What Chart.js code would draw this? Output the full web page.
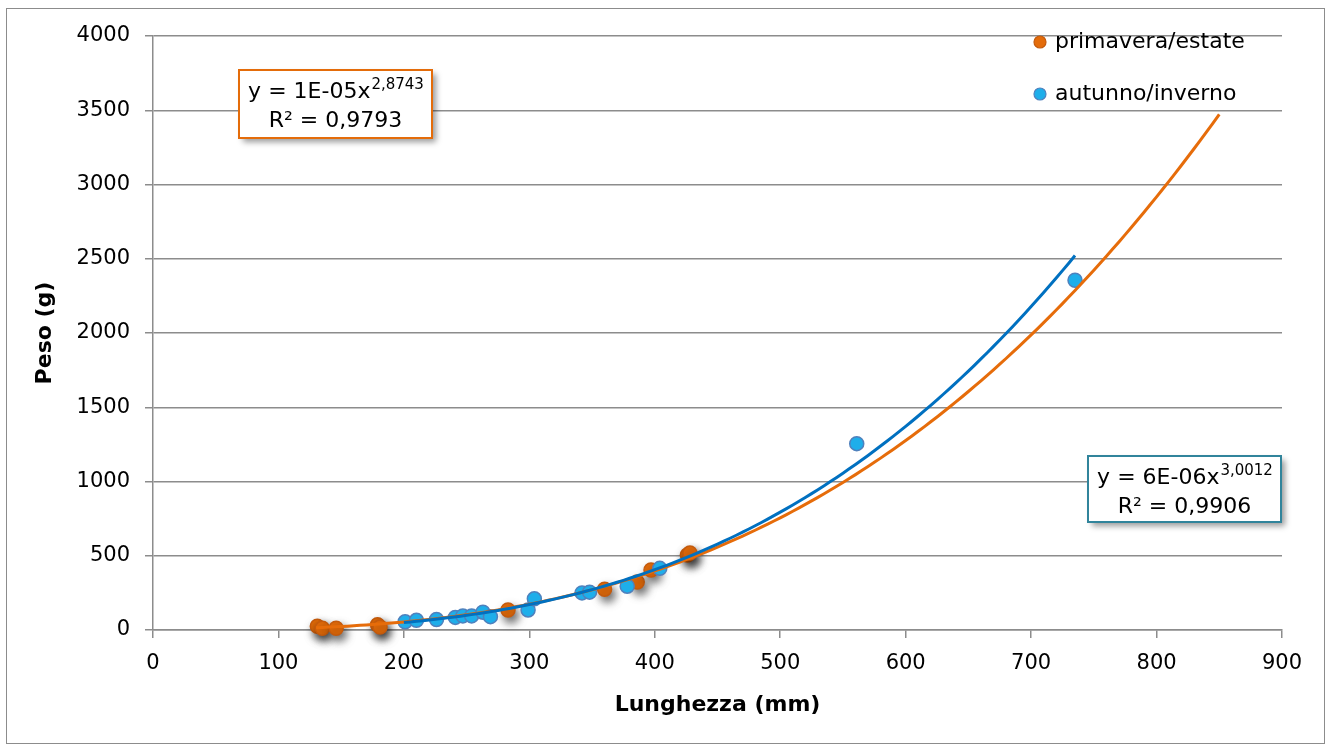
<!DOCTYPE html>
<html>
<head>
<meta charset="utf-8">
<title>Peso / Lunghezza</title>
<script src="https://cdn.jsdelivr.net/npm/chart.js@4"></script>
<style>
  html, body { margin: 0; padding: 0; background: #ffffff; }
  canvas { display: block; }
</style>
</head>
<body>
<canvas id="chart" width="1331" height="745"></canvas>
<script>
// Axis ticks
const xTicks = [0, 100, 200, 300, 400, 500, 600, 700, 800, 900];
const yTicks = [0, 500, 1000, 1500, 2000, 2500, 3000, 3500, 4000];

// Series labels
const seriesNames = ['primavera/estate', 'autunno/inverno'];

// primavera/estate: length (mm) and weight (g)
const springLength = [131, 135, 146, 179, 181, 283, 360, 386, 397, 426, 428];
const springWeight = [25, 12, 12, 35, 20, 135, 275, 323, 404, 505, 518];

// autunno/inverno: length (mm) and weight (g)
const autumnLength = [201, 210, 226, 241, 247, 254, 263, 269, 299, 304, 342, 348, 378, 404, 561, 735];
const autumnWeight = [55, 65, 70, 85, 95, 95, 120, 90, 135, 210, 250, 255, 295, 415, 1255, 2355];

// Power trendlines y = a * x^b  ([a, b]) and the x range each one spans
const springFit = [1.32e-5, 2.8743];
const springFitRange = [130, 850];
const autumnFit = [6.3e-6, 3.0012];
const autumnFitRange = [200, 735];

// Equation labels: [base, exponent, R²]
const springEq = ['y = 1E-05x', '2,8743', 'R² = 0,9793'];
const autumnEq = ['y = 6E-06x', '3,0012', 'R² = 0,9906'];

const ORANGE = '#E46C0A';
const ORANGE_EDGE = '#C45A0C';
const ORANGE_LINE = '#E66C0A';
const BLUE = '#1EAEEA';
const BLUE_EDGE = '#4F81BD';
const BLUE_LINE = '#0070C0';
const TEAL = '#31849B';
const GRID = '#8C8C8C';
const FONT = '"DejaVu Sans", sans-serif';
const TICK_SIZE = 21;
const TXT = 22;

function pairs(xs, ys) {
  return xs.map((x, i) => ({ x: x, y: ys[i] }));
}

function powerCurve(fit, range, step) {
  const pts = [];
  for (let x = range[0]; x <= range[1] + 1e-9; x += step) {
    pts.push({ x: x, y: fit[0] * Math.pow(x, fit[1]) });
  }
  return pts;
}

// Outer frame of the chart
const chartFrame = {
  id: 'chartFrame',
  beforeDraw(chart) {
    const c = chart.ctx;
    c.save();
    c.fillStyle = '#ffffff';
    c.fillRect(0, 0, chart.width, chart.height);
    c.strokeStyle = '#8C8C8C';
    c.lineWidth = 1;
    c.strokeRect(6.5, 8.5, chart.width - 13, chart.height - 10);
    c.restore();
  }
};

// Soft drop shadow under the markers of flagged datasets
const markerShadow = {
  id: 'markerShadow',
  beforeDatasetDraw(chart, args) {
    const ds = chart.data.datasets[args.index];
    if (!ds.dropShadow) return;
    const c = chart.ctx;
    c.save();
    c.shadowColor = 'rgba(0,0,0,0.6)';
    c.shadowBlur = 8;
    c.shadowOffsetX = 3;
    c.shadowOffsetY = 5;
  },
  afterDatasetDraw(chart, args) {
    const ds = chart.data.datasets[args.index];
    if (!ds.dropShadow) return;
    chart.ctx.restore();
  }
};

// Trendline equation boxes
const equationBoxes = {
  id: 'equationBoxes',
  afterDraw(chart, args, opts) {
    const c = chart.ctx;
    opts.boxes.forEach(b => {
      c.save();
      c.shadowColor = 'rgba(0,0,0,0.4)';
      c.shadowBlur = 6;
      c.shadowOffsetX = 4;
      c.shadowOffsetY = 4;
      c.fillStyle = '#ffffff';
      c.fillRect(b.x, b.y, b.w, b.h);
      c.restore();

      c.save();
      c.strokeStyle = b.color;
      c.lineWidth = 2;
      c.strokeRect(b.x, b.y, b.w, b.h);

      const cx = b.x + b.w / 2;
      const mainFont = TXT + 'px ' + FONT;
      const supFont = '15px ' + FONT;
      c.fillStyle = '#000000';
      c.textBaseline = 'alphabetic';
      c.font = mainFont;
      const wBase = c.measureText(b.text[0]).width;
      c.font = supFont;
      const wSup = c.measureText(b.text[1]).width;
      const startX = cx - (wBase + wSup) / 2;
      c.font = mainFont;
      c.textAlign = 'left';
      c.fillText(b.text[0], startX, b.y + 28);
      c.font = supFont;
      c.fillText(b.text[1], startX + wBase + 1, b.y + 19);
      c.font = mainFont;
      c.textAlign = 'center';
      c.fillText(b.text[2], cx, b.y + 57);
      c.restore();
    });
  }
};

// Legend in the upper right corner of the plot
const cornerLegend = {
  id: 'cornerLegend',
  afterDraw(chart, args, opts) {
    const c = chart.ctx;
    c.save();
    c.font = TXT + 'px ' + FONT;
    c.textBaseline = 'middle';
    c.textAlign = 'left';
    opts.items.forEach(it => {
      c.beginPath();
      c.arc(opts.x, it.y, 6, 0, Math.PI * 2);
      c.fillStyle = it.fill;
      c.fill();
      c.lineWidth = 1.2;
      c.strokeStyle = it.edge;
      c.stroke();
      c.fillStyle = '#000000';
      c.fillText(it.label, opts.x + 15, it.y);
    });
    c.restore();
  }
};

Chart.defaults.font.family = FONT;
Chart.defaults.color = '#000000';

new Chart(document.getElementById('chart'), {
  type: 'scatter',
  data: {
    datasets: [
      {
        label: 'trend ' + seriesNames[1],
        data: powerCurve(autumnFit, autumnFitRange, 5),
        showLine: true,
        borderColor: BLUE_LINE,
        borderWidth: 3,
        pointRadius: 0,
        fill: false,
        order: 0
      },
      {
        label: 'trend ' + seriesNames[0],
        data: powerCurve(springFit, springFitRange, 5),
        showLine: true,
        borderColor: ORANGE_LINE,
        borderWidth: 3,
        pointRadius: 0,
        fill: false,
        order: 1
      },
      {
        label: seriesNames[1],
        data: pairs(autumnLength, autumnWeight),
        backgroundColor: BLUE,
        borderColor: BLUE_EDGE,
        borderWidth: 1.5,
        pointRadius: 7,
        clip: false,
        order: 2
      },
      {
        label: seriesNames[0],
        data: pairs(springLength, springWeight),
        backgroundColor: ORANGE,
        borderColor: ORANGE_EDGE,
        borderWidth: 1.5,
        pointRadius: 7,
        clip: false,
        dropShadow: true,
        order: 3
      }
    ]
  },
  options: {
    responsive: false,
    animation: false,
    events: [],
    layout: { padding: { left: 0, right: 49, top: 36, bottom: 0 } },
    scales: {
      x: {
        type: 'linear',
        min: xTicks[0],
        max: xTicks[xTicks.length - 1],
        afterBuildTicks: s => { s.ticks = xTicks.map(v => ({ value: v })); },
        afterFit: s => { s.height = 115; },
        ticks: {
          font: { size: TICK_SIZE },
          padding: 13,
          maxRotation: 0,
          autoSkip: false,
          callback: v => String(v)
        },
        grid: {
          drawOnChartArea: false,
          drawTicks: true,
          tickLength: 8,
          color: GRID,
          lineWidth: 1.5
        },
        border: { color: GRID, width: 1.5 },
        title: {
          display: true,
          text: 'Lunghezza (mm)',
          font: { size: TXT, weight: 'bold' },
          padding: { top: 0, bottom: 27 }
        }
      },
      y: {
        type: 'linear',
        min: yTicks[0],
        max: yTicks[yTicks.length - 1],
        afterBuildTicks: s => { s.ticks = yTicks.map(v => ({ value: v })); },
        afterFit: s => { s.width = 153; },
        ticks: {
          font: { size: TICK_SIZE },
          padding: 15,
          autoSkip: false,
          callback: v => String(v)
        },
        grid: {
          drawTicks: true,
          tickLength: 8,
          color: GRID,
          lineWidth: 1.5
        },
        border: { color: GRID, width: 1.5 },
        title: {
          display: true,
          text: 'Peso (g)',
          font: { size: TXT, weight: 'bold' },
          padding: { top: 32, bottom: 0 }
        }
      }
    },
    plugins: {
      legend: { display: false },
      tooltip: { enabled: false },
      cornerLegend: {
        x: 1040,
        items: [
          { label: seriesNames[0], y: 42, fill: ORANGE, edge: ORANGE_EDGE },
          { label: seriesNames[1], y: 94, fill: BLUE, edge: BLUE_EDGE }
        ]
      },
      equationBoxes: {
        boxes: [
          { x: 239, y: 70, w: 193, h: 68, color: '#E46C0A', text: springEq },
          { x: 1088, y: 456, w: 193, h: 66, color: TEAL, text: autumnEq }
        ]
      }
    }
  },
  plugins: [chartFrame, markerShadow, equationBoxes, cornerLegend]
});
</script>
</body>
</html>
